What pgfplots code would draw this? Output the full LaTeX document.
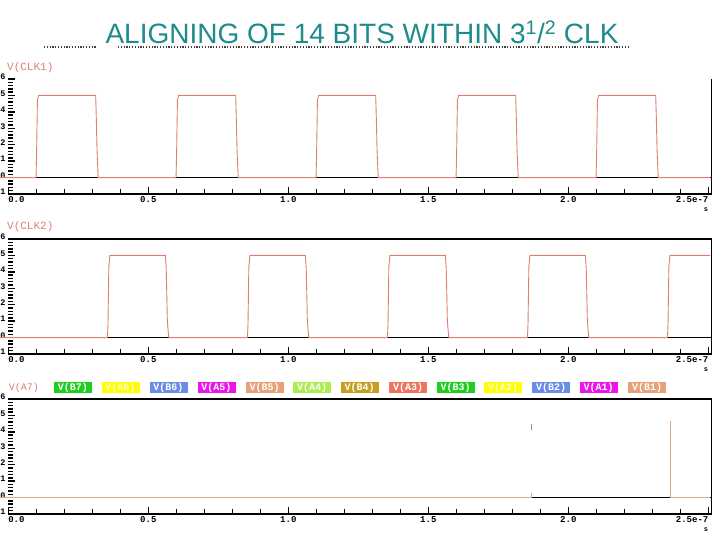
\documentclass[border=0pt]{standalone}
\usepackage{pgfplots}
\pgfplotsset{compat=1.18}
\usepackage{fontspec}
\setmainfont{Liberation Sans}
\newfontfamily\mono{Liberation Mono}
\definecolor{clk}{RGB}{222,128,112}
\definecolor{tanline}{RGB}{212,172,135}
\definecolor{titlecol}{RGB}{30,140,140}
\definecolor{lgreen}{RGB}{30,205,30}
\definecolor{lyellow}{RGB}{255,255,0}
\definecolor{lblue}{RGB}{105,140,230}
\definecolor{lmag}{RGB}{235,20,235}
\definecolor{ltan}{RGB}{232,160,120}
\definecolor{llime}{RGB}{170,238,80}
\definecolor{lgold}{RGB}{200,158,30}
\definecolor{lcoral}{RGB}{238,115,95}
\pgfplotsset{wave/.style={
  scale only axis, width=703.4pt, height=115pt,
  xmin=0, xmax=2.512, ymin=-1, ymax=6,
  axis line style={draw=none},
  clip=false,
  xtick={0,0.5,1,1.5,2,2.5},
  xticklabels={{\makebox[0pt][l]{0.0}},0.5,1.0,1.5,2.0,{\makebox[0pt][r]{2.5e-7}}},
  minor x tick num=4,
  ytick={-1,0,...,6}, yticklabels={1,0,1,2,3,4,5,6},
  minor y tick num=4,
  xtick pos=left, ytick pos=left,
  tick align=inside,
  major tick length=7pt, minor tick length=4.5pt,
  tick style={black, line width=0.9pt},
  every y tick/.append style={line width=1.5pt},
  xticklabel style={font=\mono\bfseries\fontsize{9}{9}\selectfont, inner sep=0pt, yshift=-2pt},
  yticklabel style={font=\mono\bfseries\fontsize{8.5}{8.5}\selectfont, anchor=east, inner sep=0pt, xshift=-2.6pt, yshift=2pt},
}}
\begin{document}
\begin{tikzpicture}
\useasboundingbox[fill=white] (0pt,0pt) rectangle (720pt,540pt);
% header
\draw[black!75, line width=1.3pt, dash pattern=on 1.2pt off 1.6pt] (44pt,493pt) -- (96pt,493pt);
\draw[black!75, line width=1.3pt, dash pattern=on 1.2pt off 1.6pt] (118pt,493pt) -- (630pt,493pt);
\node[anchor=base, text=titlecol, font=\fontsize{28}{28}\selectfont, inner sep=0pt] at (362pt,496pt) {ALIGNING OF 14 BITS WITHIN 3\textsuperscript{1}/\textsuperscript{2} CLK};
% panel 1
\begin{axis}[wave, at={(8.3pt,346pt)}, anchor=south west]
\addplot[black, line width=1pt] coordinates {(0,0)(2.512,0)};
\addplot[clk, line width=0.9pt] coordinates {
(-0.03,0)
(0.099,0)(0.101,1.4)(0.104,4.7)(0.108,5)(0.312,5)(0.314,3.8)(0.317,1.6)(0.321,0)
(0.599,0)(0.601,1.4)(0.604,4.7)(0.608,5)(0.812,5)(0.814,3.8)(0.817,1.6)(0.821,0)
(1.099,0)(1.101,1.4)(1.104,4.7)(1.108,5)(1.312,5)(1.314,3.8)(1.317,1.6)(1.321,0)
(1.599,0)(1.601,1.4)(1.604,4.7)(1.608,5)(1.812,5)(1.814,3.8)(1.817,1.6)(1.821,0)
(2.099,0)(2.101,1.4)(2.104,4.7)(2.108,5)(2.312,5)(2.314,3.8)(2.317,1.6)(2.321,0)
(2.506,0)};
\draw[black, line width=1.2pt] (rel axis cs:0,0) -- (rel axis cs:1,0) -- (rel axis cs:1,1);
\end{axis}
% panel 2
\begin{axis}[wave, at={(8.3pt,186pt)}, anchor=south west]
\addplot[black, line width=1pt] coordinates {(0,0)(2.512,0)};
\addplot[clk, line width=0.9pt] coordinates {
(-0.03,0)
(0.354,0)(0.356,0.8)(0.359,4.3)(0.363,5)(0.561,5)(0.564,4.2)(0.568,1.0)(0.573,0)
(0.854,0)(0.856,0.8)(0.859,4.3)(0.863,5)(1.061,5)(1.064,4.2)(1.068,1.0)(1.073,0)
(1.354,0)(1.356,0.8)(1.359,4.3)(1.363,5)(1.561,5)(1.564,4.2)(1.568,1.0)(1.573,0)
(1.854,0)(1.856,0.8)(1.859,4.3)(1.863,5)(2.061,5)(2.064,4.2)(2.068,1.0)(2.073,0)
(2.354,0)(2.356,0.8)(2.359,4.3)(2.363,5)(2.506,5)};
\draw[black, line width=1.2pt] (rel axis cs:0,1) -- (rel axis cs:1,1) -- (rel axis cs:1,0) -- (rel axis cs:0,0);
\end{axis}
% panel 3
\begin{axis}[wave, at={(8.3pt,26pt)}, anchor=south west]
\addplot[black, line width=1pt] coordinates {(0,0)(2.512,0)};
\addplot[tanline, line width=0.9pt] coordinates {(-0.03,0)(1.867,0)(1.867,0.3)};
\addplot[tanline!80!black, line width=0.9pt] coordinates {(1.867,4.1)(1.867,4.5)};
\addplot[tanline, line width=0.9pt] coordinates {(2.363,4.65)(2.363,0)(2.506,0)};
\draw[black, line width=1.2pt] (rel axis cs:0,1) -- (rel axis cs:1,1) -- (rel axis cs:1,0) -- (rel axis cs:0,0);
\end{axis}
% labels
\node[anchor=west, text=clk, font=\mono\fontsize{11}{11}\selectfont, inner sep=0pt] at (7pt,472.5pt) {V(CLK1)};
\node[anchor=west, text=clk, font=\mono\fontsize{11}{11}\selectfont, inner sep=0pt] at (7pt,313.5pt) {V(CLK2)};
\foreach \yy in {330,170,10} {
  \node[font=\mono\bfseries\fontsize{7}{7}\selectfont, inner sep=0pt] at (706pt,\yy pt) {s};
}
% legend row
\tikzset{lg/.style={fill=#1, text=white, font=\mono\bfseries\fontsize{10}{10}\selectfont, minimum width=38pt, minimum height=11.6pt, inner sep=0pt}}
\node[text=clk, font=\mono\fontsize{10}{10}\selectfont, inner sep=0pt] at (24pt,152.5pt) {V(A7)};
\node[lg=lgreen] at (73pt,152.5pt) {V(B7)};
\node[lg=lyellow, text=white!85!yellow] at (120.5pt,152.5pt) {V(A6)};
\node[lg=lblue] at (168.5pt,152.5pt) {V(B6)};
\node[lg=lmag] at (216.5pt,152.5pt) {V(A5)};
\node[lg=ltan] at (264.5pt,152.5pt) {V(B5)};
\node[lg=llime] at (312pt,152.5pt) {V(A4)};
\node[lg=lgold] at (359.5pt,152.5pt) {V(B4)};
\node[lg=lcoral] at (408pt,152.5pt) {V(A3)};
\node[lg=lgreen] at (455.5pt,152.5pt) {V(B3)};
\node[lg=lyellow, text=white!85!yellow] at (503pt,152.5pt) {V(A2)};
\node[lg=lblue] at (551pt,152.5pt) {V(B2)};
\node[lg=lmag] at (598.5pt,152.5pt) {V(A1)};
\node[lg=ltan] at (647pt,152.5pt) {V(B1)};
\end{tikzpicture}
\end{document}
